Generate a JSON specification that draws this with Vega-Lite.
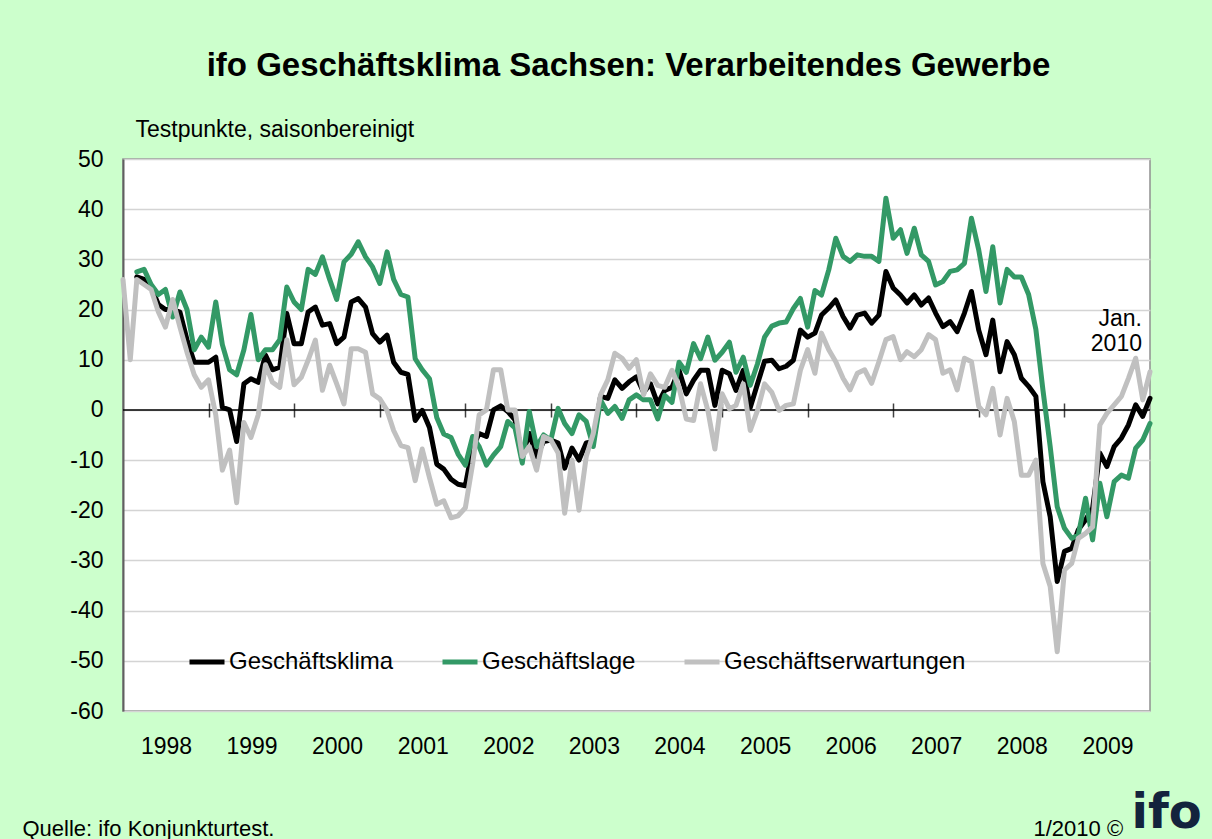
{
  "$schema": "https://vega.github.io/schema/vega-lite/v6.json",
  "width": 1027,
  "height": 552,
  "autosize": {"type": "none"},
  "padding": {"left": 123, "top": 159, "right": 62, "bottom": 128},
  "background": "#CCFFCC",
  "config": {
    "font": "Liberation Sans",
    "view": {"fill": "white", "stroke": "#909090", "strokeWidth": 1.5}
  },
  "title": {
    "text": "ifo Geschäftsklima Sachsen: Verarbeitendes Gewerbe",
    "fontSize": 33,
    "fontWeight": "bold",
    "color": "black",
    "anchor": "middle",
    "frame": "group",
    "dx": -8,
    "offset": 35
  },
  "resolve": {"axis": {"x": "independent", "y": "independent"}},
  "layer": [
    {
      "data": {"values": [{}]},
      "mark": {"type": "rule", "color": "black", "strokeWidth": 1.5},
      "encoding": {"y": {"datum": 0, "type": "quantitative", "axis": null}}
    },
    {
      "data": {"values": [
        {"m":"1998-01","e":26},
        {"m":"1998-02","e":10},
        {"m":"1998-03","k":26.5,"l":27.5,"e":26},
        {"m":"1998-04","k":26,"l":28,"e":25},
        {"m":"1998-05","k":24.5,"l":25,"e":24},
        {"m":"1998-06","k":21,"l":23,"e":19.5},
        {"m":"1998-07","k":20,"l":24,"e":16.5},
        {"m":"1998-08","k":20,"l":18.5,"e":22},
        {"m":"1998-09","k":19.5,"l":23.5,"e":16.5},
        {"m":"1998-10","k":14,"l":20,"e":11.5},
        {"m":"1998-11","k":9.5,"l":12,"e":7},
        {"m":"1998-12","k":9.5,"l":14.5,"e":4.5},
        {"m":"1999-01","k":9.5,"l":12.5,"e":6},
        {"m":"1999-02","k":10.5,"l":21.5,"e":-1},
        {"m":"1999-03","k":0.5,"l":13,"e":-12},
        {"m":"1999-04","k":0,"l":8,"e":-8},
        {"m":"1999-05","k":-6.3,"l":7,"e":-18.5},
        {"m":"1999-06","k":5.2,"l":12,"e":-2.5},
        {"m":"1999-07","k":6.2,"l":19,"e":-5.5},
        {"m":"1999-08","k":5.5,"l":10,"e":-1},
        {"m":"1999-09","k":10.9,"l":12,"e":9},
        {"m":"1999-10","k":8,"l":12,"e":5.5},
        {"m":"1999-11","k":8.5,"l":14,"e":4.5},
        {"m":"1999-12","k":19.2,"l":24.5,"e":14},
        {"m":"2000-01","k":13.2,"l":21.5,"e":5},
        {"m":"2000-02","k":13.2,"l":20,"e":6.5},
        {"m":"2000-03","k":19.5,"l":28,"e":9.9},
        {"m":"2000-04","k":20.5,"l":27,"e":13.9},
        {"m":"2000-05","k":16.9,"l":30.5,"e":3.9},
        {"m":"2000-06","k":17.2,"l":26,"e":8.9},
        {"m":"2000-07","k":13.2,"l":22,"e":5.2},
        {"m":"2000-08","k":14.5,"l":29.5,"e":1.2},
        {"m":"2000-09","k":21.5,"l":31,"e":12.2},
        {"m":"2000-10","k":22.2,"l":33.5,"e":12.2},
        {"m":"2000-11","k":20.5,"l":30.5,"e":11.5},
        {"m":"2000-12","k":15.2,"l":28.5,"e":3.2},
        {"m":"2001-01","k":13.5,"l":25.2,"e":2.2},
        {"m":"2001-02","k":14.9,"l":31.5,"e":-0.1},
        {"m":"2001-03","k":9.5,"l":26,"e":-4.1},
        {"m":"2001-04","k":7.5,"l":23,"e":-7.1},
        {"m":"2001-05","k":7.1,"l":22.5,"e":-7.5},
        {"m":"2001-06","k":-2.1,"l":10.2,"e":-14.1},
        {"m":"2001-07","k":-0.1,"l":8,"e":-7.8},
        {"m":"2001-08","k":-3.5,"l":6.2,"e":-13.5},
        {"m":"2001-09","k":-10.8,"l":-1.5,"e":-18.8},
        {"m":"2001-10","k":-11.8,"l":-4.8,"e":-18.1},
        {"m":"2001-11","k":-13.8,"l":-5.5,"e":-21.5},
        {"m":"2001-12","k":-14.8,"l":-8.8,"e":-21.1},
        {"m":"2002-01","k":-15.1,"l":-11,"e":-19.5},
        {"m":"2002-02","k":-7.5,"l":-5.3,"e":-10.8},
        {"m":"2002-03","k":-4.7,"l":-7.3,"e":-1},
        {"m":"2002-04","k":-5.3,"l":-11,"e":0},
        {"m":"2002-05","k":0,"l":-9,"e":8},
        {"m":"2002-06","k":0.8,"l":-7.3,"e":8},
        {"m":"2002-07","k":-0.3,"l":-2.3,"e":0},
        {"m":"2002-08","k":-2,"l":-3.6,"e":0},
        {"m":"2002-09","k":-9,"l":-10.6,"e":-9.3},
        {"m":"2002-10","k":-4.7,"l":-0.3,"e":-7.3},
        {"m":"2002-11","k":-9.3,"l":-7.3,"e":-12},
        {"m":"2002-12","k":-6.3,"l":-5,"e":-5.3},
        {"m":"2003-01","k":-6,"l":-6,"e":-6},
        {"m":"2003-02","k":-6.6,"l":0.3,"e":-8.6},
        {"m":"2003-03","k":-11.6,"l":-2.7,"e":-20.6},
        {"m":"2003-04","k":-7.6,"l":-4.7,"e":-10},
        {"m":"2003-05","k":-10,"l":-1,"e":-20},
        {"m":"2003-06","k":-6.6,"l":-2.3,"e":-9.3},
        {"m":"2003-07","k":-6.3,"l":-7.3,"e":-4.7},
        {"m":"2003-08","k":2.7,"l":2,"e":3},
        {"m":"2003-09","k":2.3,"l":-0.7,"e":6},
        {"m":"2003-10","k":6,"l":0.7,"e":11.3},
        {"m":"2003-11","k":4.3,"l":-1.7,"e":10.3},
        {"m":"2003-12","k":5.6,"l":2,"e":8.3},
        {"m":"2004-01","k":6.6,"l":3,"e":10},
        {"m":"2004-02","k":3.5,"l":2,"e":3},
        {"m":"2004-03","k":5.2,"l":2,"e":7.2},
        {"m":"2004-04","k":1.2,"l":-1.8,"e":4.9},
        {"m":"2004-05","k":3.9,"l":2.9,"e":4.5},
        {"m":"2004-06","k":4.5,"l":1.5,"e":7.9},
        {"m":"2004-07","k":7.9,"l":9.5,"e":4.5},
        {"m":"2004-08","k":3.2,"l":7.5,"e":-1.8},
        {"m":"2004-09","k":5.9,"l":13.2,"e":-2.1},
        {"m":"2004-10","k":7.9,"l":10.2,"e":5.2},
        {"m":"2004-11","k":7.9,"l":14.5,"e":-0.1},
        {"m":"2004-12","k":0.9,"l":9.9,"e":-7.8},
        {"m":"2005-01","k":7.9,"l":11.5,"e":3.2},
        {"m":"2005-02","k":7.2,"l":13.5,"e":0.2},
        {"m":"2005-03","k":3.9,"l":7.5,"e":0.9},
        {"m":"2005-04","k":7.9,"l":10.5,"e":5.2},
        {"m":"2005-05","k":0.5,"l":4.9,"e":-4.1},
        {"m":"2005-06","k":5.2,"l":9.2,"e":-0.1},
        {"m":"2005-07","k":9.7,"l":14.5,"e":5.2},
        {"m":"2005-08","k":9.9,"l":16.7,"e":3.5},
        {"m":"2005-09","k":8.2,"l":17.3,"e":-0.1},
        {"m":"2005-10","k":8.7,"l":17.5,"e":0.9},
        {"m":"2005-11","k":9.9,"l":20.2,"e":1.2},
        {"m":"2005-12","k":15.9,"l":22.2,"e":7.9},
        {"m":"2006-01","k":14.5,"l":16.5,"e":12},
        {"m":"2006-02","k":15.3,"l":23.8,"e":7.3},
        {"m":"2006-03","k":18.9,"l":22.9,"e":15.3},
        {"m":"2006-04","k":20.3,"l":27.9,"e":12},
        {"m":"2006-05","k":21.9,"l":34.2,"e":9.6},
        {"m":"2006-06","k":18.6,"l":30.6,"e":6.3},
        {"m":"2006-07","k":16.3,"l":29.6,"e":4},
        {"m":"2006-08","k":18.9,"l":30.9,"e":7.3},
        {"m":"2006-09","k":19.3,"l":30.6,"e":8},
        {"m":"2006-10","k":17.3,"l":30.6,"e":5.3},
        {"m":"2006-11","k":18.9,"l":29.6,"e":9.6},
        {"m":"2006-12","k":27.6,"l":42.2,"e":14},
        {"m":"2007-01","k":24.3,"l":34.2,"e":14.6},
        {"m":"2007-02","k":22.9,"l":35.9,"e":10},
        {"m":"2007-03","k":21.3,"l":31.2,"e":11.6},
        {"m":"2007-04","k":22.9,"l":36.2,"e":10.6},
        {"m":"2007-05","k":20.9,"l":30.9,"e":12},
        {"m":"2007-06","k":22.3,"l":29.6,"e":15},
        {"m":"2007-07","k":19.3,"l":24.9,"e":14},
        {"m":"2007-08","k":16.6,"l":25.6,"e":7.3},
        {"m":"2007-09","k":17.6,"l":27.6,"e":8},
        {"m":"2007-10","k":15.6,"l":27.9,"e":4},
        {"m":"2007-11","k":19.3,"l":29.2,"e":10.3},
        {"m":"2007-12","k":23.6,"l":38.2,"e":9.6},
        {"m":"2008-01","k":15.9,"l":31.9,"e":0.7},
        {"m":"2008-02","k":11,"l":23.6,"e":-1},
        {"m":"2008-03","k":17.9,"l":32.5,"e":4.3},
        {"m":"2008-04","k":7.6,"l":21.3,"e":-5},
        {"m":"2008-05","k":13.6,"l":28,"e":2.3},
        {"m":"2008-06","k":11,"l":26.5,"e":-2.3},
        {"m":"2008-07","k":6.3,"l":26.5,"e":-13},
        {"m":"2008-08","k":4.7,"l":23,"e":-13},
        {"m":"2008-09","k":2.7,"l":16,"e":-10},
        {"m":"2008-10","k":-14.3,"l":4,"e":-30.6},
        {"m":"2008-11","k":-21.3,"l":-7.3,"e":-35.2},
        {"m":"2008-12","k":-34.2,"l":-19.3,"e":-48.2},
        {"m":"2009-01","k":-28.2,"l":-23.6,"e":-31.9},
        {"m":"2009-02","k":-27.6,"l":-25.6,"e":-30.6},
        {"m":"2009-03","k":-23.9,"l":-24.9,"e":-25.6},
        {"m":"2009-04","k":-21.9,"l":-17.6,"e":-24.6},
        {"m":"2009-05","k":-19.6,"l":-25.9,"e":-23.3},
        {"m":"2009-06","k":-8.6,"l":-14.6,"e":-3},
        {"m":"2009-07","k":-11.3,"l":-21.3,"e":-0.7},
        {"m":"2009-08","k":-7.3,"l":-14.3,"e":1},
        {"m":"2009-09","k":-5.6,"l":-13,"e":2.7},
        {"m":"2009-10","k":-3,"l":-13.6,"e":6.3},
        {"m":"2009-11","k":1,"l":-7.6,"e":10.3},
        {"m":"2009-12","k":-1.3,"l":-6,"e":2},
        {"m":"2010-01","k":2.3,"l":-2.7,"e":7.6}
      ]},
      "transform": [{"fold": ["k", "l", "e"], "as": ["s", "v"]}],
      "mark": {"type": "line", "strokeWidth": 5, "strokeJoin": "round", "strokeCap": "round"},
      "encoding": {
        "x": {
          "field": "m",
          "type": "temporal",
          "scale": {"type": "utc", "domain": [{"year": 1998, "month": 1, "date": 1, "utc": true}, {"year": 2010, "month": 1, "date": 1, "utc": true}]},
          "axis": {
            "orient": "bottom",
            "values": [
              {"year": 1998, "month": 1, "date": 1, "utc": true},
              {"year": 1999, "month": 1, "date": 1, "utc": true},
              {"year": 2000, "month": 1, "date": 1, "utc": true},
              {"year": 2001, "month": 1, "date": 1, "utc": true},
              {"year": 2002, "month": 1, "date": 1, "utc": true},
              {"year": 2003, "month": 1, "date": 1, "utc": true},
              {"year": 2004, "month": 1, "date": 1, "utc": true},
              {"year": 2005, "month": 1, "date": 1, "utc": true},
              {"year": 2006, "month": 1, "date": 1, "utc": true},
              {"year": 2007, "month": 1, "date": 1, "utc": true},
              {"year": 2008, "month": 1, "date": 1, "utc": true},
              {"year": 2009, "month": 1, "date": 1, "utc": true}
            ],
            "format": "%Y",
            "grid": false,
            "ticks": false,
            "domain": false,
            "labelFontSize": 23,
            "labelColor": "black",
            "labelOffset": 43,
            "labelPadding": 24,
            "labelFlush": false,
            "labelOverlap": false,
            "title": "Quelle: ifo Konjunkturtest.",
            "titleFontSize": 22,
            "titleFontWeight": "normal",
            "titleColor": "black",
            "titleAlign": "left",
            "titleBaseline": "alphabetic",
            "titleX": -101,
            "titleY": 124
          }
        },
        "y": {
          "field": "v",
          "type": "quantitative",
          "scale": {"domain": [-60, 50], "nice": false, "zero": false},
          "axis": {
            "orient": "left",
            "values": [-60, -50, -40, -30, -20, -10, 0, 10, 20, 30, 40, 50],
            "labelExpr": "'' + datum.value",
            "grid": true,
            "gridColor": "#D4D4D4",
            "gridWidth": 1.5,
            "ticks": false,
            "domain": true,
            "domainColor": "#606060",
            "domainWidth": 2,
            "labelFontSize": 23,
            "labelColor": "black",
            "labelPadding": 20,
            "title": "Testpunkte, saisonbereinigt",
            "titleFontSize": 23,
            "titleFontWeight": "normal",
            "titleColor": "black",
            "titleAngle": 0,
            "titleAlign": "left",
            "titleBaseline": "alphabetic",
            "titleX": 12,
            "titleY": -23
          }
        },
        "color": {
          "field": "s",
          "type": "nominal",
          "scale": {"domain": ["k", "l", "e"], "range": ["#000000", "#339966", "#C0C0C0"]},
          "legend": {
            "orient": "none",
            "legendX": 64,
            "legendY": 483,
            "direction": "horizontal",
            "title": null,
            "padding": 0,
            "columnPadding": 38,
            "symbolType": "stroke",
            "symbolSize": 1225,
            "symbolStrokeWidth": 5,
            "labelOffset": 2,
            "labelFontSize": 24,
            "labelColor": "black",
            "labelLimit": 400,
            "labelExpr": "datum.value == 'k' ? 'Geschäftsklima' : datum.value == 'l' ? 'Geschäftslage' : 'Geschäftserwartungen'"
          }
        }
      }
    },
    {
      "data": {"values": [{}]},
      "mark": {"type": "text", "text": ["Jan.", "2010"], "align": "right", "baseline": "top", "fontSize": 23, "lineHeight": 25, "dx": -8, "color": "black"},
      "encoding": {
        "x": {
          "datum": {"year": 2010, "month": 1, "date": 1, "utc": true},
          "type": "temporal",
          "axis": {
            "orient": "top",
            "offset": -258,
            "values": [
              {"year": 1999, "month": 1, "date": 1, "utc": true},
              {"year": 2000, "month": 1, "date": 1, "utc": true},
              {"year": 2001, "month": 1, "date": 1, "utc": true},
              {"year": 2002, "month": 1, "date": 1, "utc": true},
              {"year": 2003, "month": 1, "date": 1, "utc": true},
              {"year": 2004, "month": 1, "date": 1, "utc": true},
              {"year": 2005, "month": 1, "date": 1, "utc": true},
              {"year": 2006, "month": 1, "date": 1, "utc": true},
              {"year": 2007, "month": 1, "date": 1, "utc": true},
              {"year": 2008, "month": 1, "date": 1, "utc": true},
              {"year": 2009, "month": 1, "date": 1, "utc": true}
            ],
            "grid": false,
            "domain": false,
            "labels": false,
            "ticks": true,
            "tickSize": 14,
            "tickColor": "#404040",
            "tickWidth": 1.5,
            "title": "1/2010 ©",
            "titleFontSize": 22,
            "titleFontWeight": "normal",
            "titleColor": "black",
            "titleAlign": "left",
            "titleBaseline": "alphabetic",
            "titleX": 910,
            "titleY": 418
          }
        },
        "y": {
          "datum": 20.3,
          "type": "quantitative",
          "axis": {
            "orient": "right",
            "grid": false,
            "domain": false,
            "labels": false,
            "ticks": false,
            "title": "ifo",
            "titleFont": "DejaVu Sans",
            "titleFontSize": 48,
            "titleFontWeight": "bold",
            "titleColor": "#13233D",
            "titleAngle": 0,
            "titleAlign": "left",
            "titleBaseline": "alphabetic",
            "titleX": -19,
            "titleY": 668
          }
        }
      }
    }
  ]
}
